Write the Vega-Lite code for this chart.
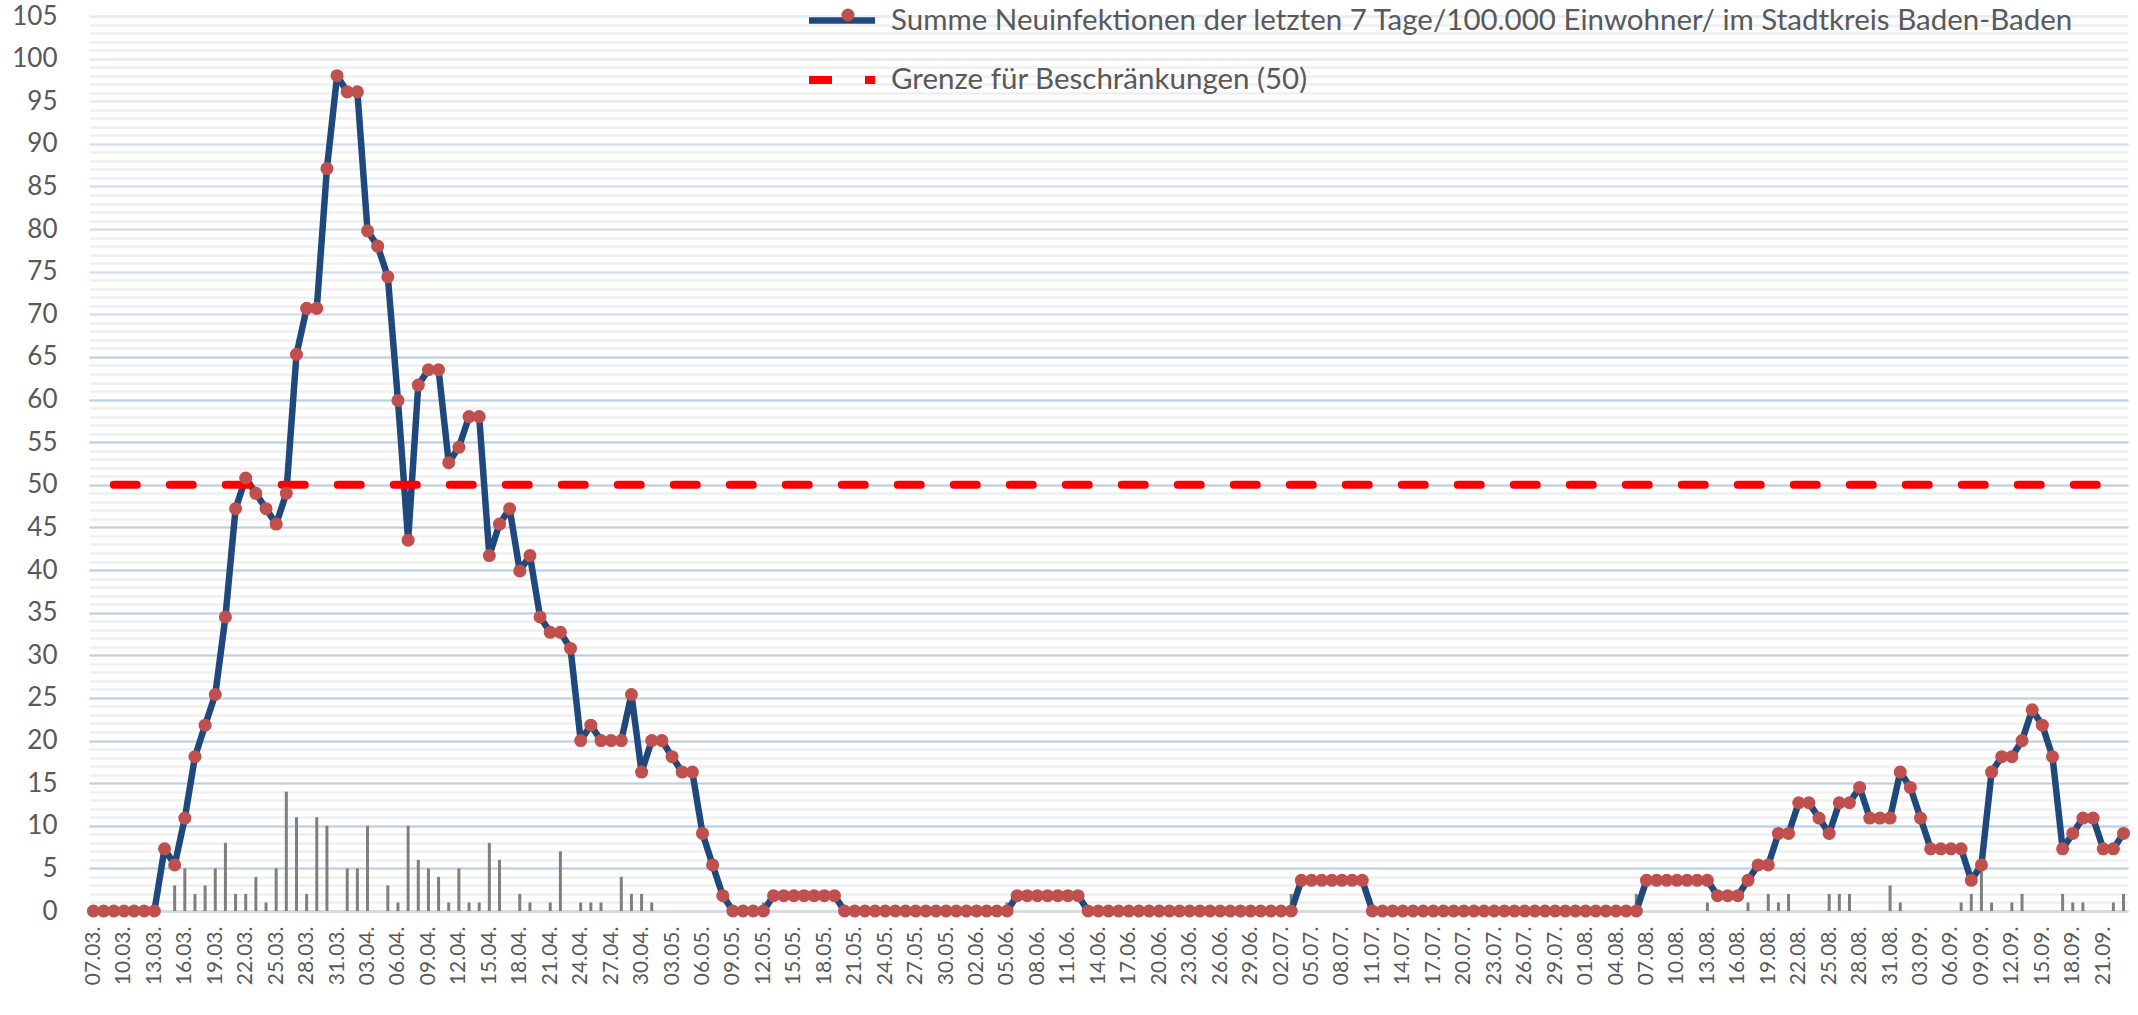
{
  "$schema": "https://vega.github.io/schema/vega-lite/v6.json",
  "width": 2039,
  "height": 895,
  "autosize": {"type": "none"},
  "padding": {"left": 89, "top": 16, "right": 10, "bottom": 104},
  "background": "white",
  "config": {
    "view": {"stroke": null},
    "font": "Lato",
    "axis": {"labelFont": "Lato", "labelColor": "#595959"},
    "legend": {"labelFont": "Lato", "labelColor": "#595959"}
  },
  "data": {
    "values": [
      {"d":"07.03.","inz":0,"n":0},
      {"d":"08.03.","inz":0,"n":0},
      {"d":"09.03.","inz":0,"n":0,"g":50},
      {"d":"10.03.","inz":0,"n":0,"g":50},
      {"d":"11.03.","inz":0,"n":0,"g":50},
      {"d":"12.03.","inz":0,"n":0,"g":50},
      {"d":"13.03.","inz":0,"n":0,"g":50},
      {"d":"14.03.","inz":7.3,"n":0,"g":50},
      {"d":"15.03.","inz":5.4,"n":3,"g":50},
      {"d":"16.03.","inz":10.9,"n":5,"g":50},
      {"d":"17.03.","inz":18.1,"n":2,"g":50},
      {"d":"18.03.","inz":21.8,"n":3,"g":50},
      {"d":"19.03.","inz":25.4,"n":5,"g":50},
      {"d":"20.03.","inz":34.5,"n":8,"g":50},
      {"d":"21.03.","inz":47.2,"n":2,"g":50},
      {"d":"22.03.","inz":50.8,"n":2,"g":50},
      {"d":"23.03.","inz":49.0,"n":4,"g":50},
      {"d":"24.03.","inz":47.2,"n":1,"g":50},
      {"d":"25.03.","inz":45.4,"n":5,"g":50},
      {"d":"26.03.","inz":49.0,"n":14,"g":50},
      {"d":"27.03.","inz":65.3,"n":11,"g":50},
      {"d":"28.03.","inz":70.7,"n":2,"g":50},
      {"d":"29.03.","inz":70.7,"n":11,"g":50},
      {"d":"30.03.","inz":87.1,"n":10,"g":50},
      {"d":"31.03.","inz":98.0,"n":0,"g":50},
      {"d":"01.04.","inz":96.1,"n":5,"g":50},
      {"d":"02.04.","inz":96.1,"n":5,"g":50},
      {"d":"03.04.","inz":79.8,"n":10,"g":50},
      {"d":"04.04.","inz":78.0,"n":0,"g":50},
      {"d":"05.04.","inz":74.4,"n":3,"g":50},
      {"d":"06.04.","inz":59.9,"n":1,"g":50},
      {"d":"07.04.","inz":43.5,"n":10,"g":50},
      {"d":"08.04.","inz":61.7,"n":6,"g":50},
      {"d":"09.04.","inz":63.5,"n":5,"g":50},
      {"d":"10.04.","inz":63.5,"n":4,"g":50},
      {"d":"11.04.","inz":52.6,"n":1,"g":50},
      {"d":"12.04.","inz":54.4,"n":5,"g":50},
      {"d":"13.04.","inz":58.0,"n":1,"g":50},
      {"d":"14.04.","inz":58.0,"n":1,"g":50},
      {"d":"15.04.","inz":41.7,"n":8,"g":50},
      {"d":"16.04.","inz":45.4,"n":6,"g":50},
      {"d":"17.04.","inz":47.2,"n":0,"g":50},
      {"d":"18.04.","inz":39.9,"n":2,"g":50},
      {"d":"19.04.","inz":41.7,"n":1,"g":50},
      {"d":"20.04.","inz":34.5,"n":0,"g":50},
      {"d":"21.04.","inz":32.7,"n":1,"g":50},
      {"d":"22.04.","inz":32.7,"n":7,"g":50},
      {"d":"23.04.","inz":30.8,"n":0,"g":50},
      {"d":"24.04.","inz":20.0,"n":1,"g":50},
      {"d":"25.04.","inz":21.8,"n":1,"g":50},
      {"d":"26.04.","inz":20.0,"n":1,"g":50},
      {"d":"27.04.","inz":20.0,"n":0,"g":50},
      {"d":"28.04.","inz":20.0,"n":4,"g":50},
      {"d":"29.04.","inz":25.4,"n":2,"g":50},
      {"d":"30.04.","inz":16.3,"n":2,"g":50},
      {"d":"01.05.","inz":20.0,"n":1,"g":50},
      {"d":"02.05.","inz":20.0,"n":0,"g":50},
      {"d":"03.05.","inz":18.1,"n":0,"g":50},
      {"d":"04.05.","inz":16.3,"n":0,"g":50},
      {"d":"05.05.","inz":16.3,"n":0,"g":50},
      {"d":"06.05.","inz":9.1,"n":0,"g":50},
      {"d":"07.05.","inz":5.4,"n":0,"g":50},
      {"d":"08.05.","inz":1.8,"n":0,"g":50},
      {"d":"09.05.","inz":0,"n":0,"g":50},
      {"d":"10.05.","inz":0,"n":0,"g":50},
      {"d":"11.05.","inz":0,"n":0,"g":50},
      {"d":"12.05.","inz":0,"n":1,"g":50},
      {"d":"13.05.","inz":1.8,"n":0,"g":50},
      {"d":"14.05.","inz":1.8,"n":0,"g":50},
      {"d":"15.05.","inz":1.8,"n":0,"g":50},
      {"d":"16.05.","inz":1.8,"n":0,"g":50},
      {"d":"17.05.","inz":1.8,"n":0,"g":50},
      {"d":"18.05.","inz":1.8,"n":0,"g":50},
      {"d":"19.05.","inz":1.8,"n":0,"g":50},
      {"d":"20.05.","inz":0,"n":0,"g":50},
      {"d":"21.05.","inz":0,"n":0,"g":50},
      {"d":"22.05.","inz":0,"n":0,"g":50},
      {"d":"23.05.","inz":0,"n":0,"g":50},
      {"d":"24.05.","inz":0,"n":0,"g":50},
      {"d":"25.05.","inz":0,"n":0,"g":50},
      {"d":"26.05.","inz":0,"n":0,"g":50},
      {"d":"27.05.","inz":0,"n":0,"g":50},
      {"d":"28.05.","inz":0,"n":0,"g":50},
      {"d":"29.05.","inz":0,"n":0,"g":50},
      {"d":"30.05.","inz":0,"n":0,"g":50},
      {"d":"31.05.","inz":0,"n":0,"g":50},
      {"d":"01.06.","inz":0,"n":0,"g":50},
      {"d":"02.06.","inz":0,"n":0,"g":50},
      {"d":"03.06.","inz":0,"n":0,"g":50},
      {"d":"04.06.","inz":0,"n":0,"g":50},
      {"d":"05.06.","inz":0,"n":1,"g":50},
      {"d":"06.06.","inz":1.8,"n":0,"g":50},
      {"d":"07.06.","inz":1.8,"n":0,"g":50},
      {"d":"08.06.","inz":1.8,"n":0,"g":50},
      {"d":"09.06.","inz":1.8,"n":0,"g":50},
      {"d":"10.06.","inz":1.8,"n":0,"g":50},
      {"d":"11.06.","inz":1.8,"n":0,"g":50},
      {"d":"12.06.","inz":1.8,"n":0,"g":50},
      {"d":"13.06.","inz":0,"n":0,"g":50},
      {"d":"14.06.","inz":0,"n":0,"g":50},
      {"d":"15.06.","inz":0,"n":0,"g":50},
      {"d":"16.06.","inz":0,"n":0,"g":50},
      {"d":"17.06.","inz":0,"n":0,"g":50},
      {"d":"18.06.","inz":0,"n":0,"g":50},
      {"d":"19.06.","inz":0,"n":0,"g":50},
      {"d":"20.06.","inz":0,"n":0,"g":50},
      {"d":"21.06.","inz":0,"n":0,"g":50},
      {"d":"22.06.","inz":0,"n":0,"g":50},
      {"d":"23.06.","inz":0,"n":0,"g":50},
      {"d":"24.06.","inz":0,"n":0,"g":50},
      {"d":"25.06.","inz":0,"n":0,"g":50},
      {"d":"26.06.","inz":0,"n":0,"g":50},
      {"d":"27.06.","inz":0,"n":0,"g":50},
      {"d":"28.06.","inz":0,"n":0,"g":50},
      {"d":"29.06.","inz":0,"n":0,"g":50},
      {"d":"30.06.","inz":0,"n":0,"g":50},
      {"d":"01.07.","inz":0,"n":0,"g":50},
      {"d":"02.07.","inz":0,"n":0,"g":50},
      {"d":"03.07.","inz":0,"n":2,"g":50},
      {"d":"04.07.","inz":3.6,"n":0,"g":50},
      {"d":"05.07.","inz":3.6,"n":0,"g":50},
      {"d":"06.07.","inz":3.6,"n":0,"g":50},
      {"d":"07.07.","inz":3.6,"n":0,"g":50},
      {"d":"08.07.","inz":3.6,"n":0,"g":50},
      {"d":"09.07.","inz":3.6,"n":0,"g":50},
      {"d":"10.07.","inz":3.6,"n":0,"g":50},
      {"d":"11.07.","inz":0,"n":0,"g":50},
      {"d":"12.07.","inz":0,"n":0,"g":50},
      {"d":"13.07.","inz":0,"n":0,"g":50},
      {"d":"14.07.","inz":0,"n":0,"g":50},
      {"d":"15.07.","inz":0,"n":0,"g":50},
      {"d":"16.07.","inz":0,"n":0,"g":50},
      {"d":"17.07.","inz":0,"n":0,"g":50},
      {"d":"18.07.","inz":0,"n":0,"g":50},
      {"d":"19.07.","inz":0,"n":0,"g":50},
      {"d":"20.07.","inz":0,"n":0,"g":50},
      {"d":"21.07.","inz":0,"n":0,"g":50},
      {"d":"22.07.","inz":0,"n":0,"g":50},
      {"d":"23.07.","inz":0,"n":0,"g":50},
      {"d":"24.07.","inz":0,"n":0,"g":50},
      {"d":"25.07.","inz":0,"n":0,"g":50},
      {"d":"26.07.","inz":0,"n":0,"g":50},
      {"d":"27.07.","inz":0,"n":0,"g":50},
      {"d":"28.07.","inz":0,"n":0,"g":50},
      {"d":"29.07.","inz":0,"n":0,"g":50},
      {"d":"30.07.","inz":0,"n":0,"g":50},
      {"d":"31.07.","inz":0,"n":0,"g":50},
      {"d":"01.08.","inz":0,"n":0,"g":50},
      {"d":"02.08.","inz":0,"n":0,"g":50},
      {"d":"03.08.","inz":0,"n":0,"g":50},
      {"d":"04.08.","inz":0,"n":0,"g":50},
      {"d":"05.08.","inz":0,"n":0,"g":50},
      {"d":"06.08.","inz":0,"n":2,"g":50},
      {"d":"07.08.","inz":3.6,"n":0,"g":50},
      {"d":"08.08.","inz":3.6,"n":0,"g":50},
      {"d":"09.08.","inz":3.6,"n":0,"g":50},
      {"d":"10.08.","inz":3.6,"n":0,"g":50},
      {"d":"11.08.","inz":3.6,"n":0,"g":50},
      {"d":"12.08.","inz":3.6,"n":0,"g":50},
      {"d":"13.08.","inz":3.6,"n":1,"g":50},
      {"d":"14.08.","inz":1.8,"n":0,"g":50},
      {"d":"15.08.","inz":1.8,"n":0,"g":50},
      {"d":"16.08.","inz":1.8,"n":0,"g":50},
      {"d":"17.08.","inz":3.6,"n":1,"g":50},
      {"d":"18.08.","inz":5.4,"n":0,"g":50},
      {"d":"19.08.","inz":5.4,"n":2,"g":50},
      {"d":"20.08.","inz":9.1,"n":1,"g":50},
      {"d":"21.08.","inz":9.1,"n":2,"g":50},
      {"d":"22.08.","inz":12.7,"n":0,"g":50},
      {"d":"23.08.","inz":12.7,"n":0,"g":50},
      {"d":"24.08.","inz":10.9,"n":0,"g":50},
      {"d":"25.08.","inz":9.1,"n":2,"g":50},
      {"d":"26.08.","inz":12.7,"n":2,"g":50},
      {"d":"27.08.","inz":12.7,"n":2,"g":50},
      {"d":"28.08.","inz":14.5,"n":0,"g":50},
      {"d":"29.08.","inz":10.9,"n":0,"g":50},
      {"d":"30.08.","inz":10.9,"n":0,"g":50},
      {"d":"31.08.","inz":10.9,"n":3,"g":50},
      {"d":"01.09.","inz":16.3,"n":1,"g":50},
      {"d":"02.09.","inz":14.5,"n":0,"g":50},
      {"d":"03.09.","inz":10.9,"n":0,"g":50},
      {"d":"04.09.","inz":7.3,"n":0,"g":50},
      {"d":"05.09.","inz":7.3,"n":0,"g":50},
      {"d":"06.09.","inz":7.3,"n":0,"g":50},
      {"d":"07.09.","inz":7.3,"n":1,"g":50},
      {"d":"08.09.","inz":3.6,"n":2,"g":50},
      {"d":"09.09.","inz":5.4,"n":6,"g":50},
      {"d":"10.09.","inz":16.3,"n":1,"g":50},
      {"d":"11.09.","inz":18.1,"n":0,"g":50},
      {"d":"12.09.","inz":18.1,"n":1,"g":50},
      {"d":"13.09.","inz":20.0,"n":2,"g":50},
      {"d":"14.09.","inz":23.6,"n":0,"g":50},
      {"d":"15.09.","inz":21.8,"n":0,"g":50},
      {"d":"16.09.","inz":18.1,"n":0,"g":50},
      {"d":"17.09.","inz":7.3,"n":2,"g":50},
      {"d":"18.09.","inz":9.1,"n":1,"g":50},
      {"d":"19.09.","inz":10.9,"n":1,"g":50},
      {"d":"20.09.","inz":10.9,"n":0,"g":50},
      {"d":"21.09.","inz":7.3,"n":0,"g":50},
      {"d":"22.09.","inz":7.3,"n":1},
      {"d":"23.09.","inz":9.1,"n":2}
    ]
  },
  "resolve": {"axis": {"y": "independent"}},
  "layer": [
    {
      "mark": {"type": "rule", "color": "#7F7F7F", "strokeWidth": 3},
      "encoding": {
        "x": {"field": "d", "type": "ordinal", "sort": null, "scale": {"type": "point", "padding": 0.44}},
        "y": {
          "field": "n", "type": "quantitative",
          "scale": {"domain": [0, 105], "nice": false, "zero": true},
          "axis": {
            "orient": "left", "title": null, "labels": false, "ticks": false, "domain": false,
            "grid": true, "gridColor": "#EFEFEF", "gridWidth": 2.5,
            "values": [0,1,2,3,4,5,6,7,8,9,10,11,12,13,14,15,16,17,18,19,20,21,22,23,24,25,26,27,28,29,30,31,32,33,34,35,36,37,38,39,40,41,42,43,44,45,46,47,48,49,50,51,52,53,54,55,56,57,58,59,60,61,62,63,64,65,66,67,68,69,70,71,72,73,74,75,76,77,78,79,80,81,82,83,84,85,86,87,88,89,90,91,92,93,94,95,96,97,98,99,100,101,102,103,104,105]
          }
        },
        "y2": {"datum": 0}
      }
    },
    {
      "transform": [{"fold": ["inz", "g"], "as": ["serie", "wert"]}],
      "mark": {"type": "line", "strokeCap": "round", "strokeJoin": "round"},
      "encoding": {
        "x": {
          "field": "d", "type": "ordinal", "sort": null, "scale": {"type": "point", "padding": 0.44},
          "axis": {
            "title": null, "labelAngle": 270, "labelFontSize": 21, "labelPadding": 15, "ticks": false,
            "domainColor": "#D9D9D9", "domainWidth": 2, "grid": false, "labelOverlap": false,
            "values": ["07.03.","10.03.","13.03.","16.03.","19.03.","22.03.","25.03.","28.03.","31.03.","03.04.","06.04.","09.04.","12.04.","15.04.","18.04.","21.04.","24.04.","27.04.","30.04.","03.05.","06.05.","09.05.","12.05.","15.05.","18.05.","21.05.","24.05.","27.05.","30.05.","02.06.","05.06.","08.06.","11.06.","14.06.","17.06.","20.06.","23.06.","26.06.","29.06.","02.07.","05.07.","08.07.","11.07.","14.07.","17.07.","20.07.","23.07.","26.07.","29.07.","01.08.","04.08.","07.08.","10.08.","13.08.","16.08.","19.08.","22.08.","25.08.","28.08.","31.08.","03.09.","06.09.","09.09.","12.09.","15.09.","18.09.","21.09."]
          }
        },
        "y": {
          "field": "wert", "type": "quantitative",
          "axis": {
            "orient": "left", "title": null, "ticks": false, "domain": false,
            "labelFontSize": 26, "labelPadding": 32,
            "grid": true, "gridWidth": 2,
            "gridColor": {"condition": [{"test": "datum.value >= 95", "value": "#E4ECF7"}, {"test": "datum.value >= 70", "value": "#D2DEF0"}], "value": "#BCCFE8"},
            "values": [0,5,10,15,20,25,30,35,40,45,50,55,60,65,70,75,80,85,90,95,100,105]
          }
        },
        "stroke": {
          "field": "serie", "type": "nominal",
          "scale": {"domain": ["inz", "g"], "range": ["#1F497D", "#FF0000"]},
          "legend": {
            "title": null, "orient": "none", "legendX": 716, "legendY": -32, "padding": 0,
            "symbolType": "stroke", "symbolSize": 4356, "symbolStrokeWidth": 7,
            "labelFontSize": 29.5, "labelOffset": 12, "labelLimit": 2000, "rowPadding": 8,
            "labelExpr": "datum.value == 'inz' ? 'Summe Neuinfektionen der letzten 7 Tage/100.000 Einwohner/ im Stadtkreis Baden-Baden' : 'Grenze für Beschränkungen (50)'"
          }
        },
        "strokeDash": {
          "field": "serie", "type": "nominal",
          "scale": {"domain": ["inz", "g"], "range": [[1, 0], [23, 33]]},
          "legend": {
            "title": null, "orient": "none", "legendX": 716, "legendY": -32, "padding": 0,
            "symbolType": "stroke", "symbolSize": 4356, "symbolStrokeWidth": 7,
            "labelFontSize": 29.5, "labelOffset": 12, "labelLimit": 2000, "rowPadding": 8,
            "labelExpr": "datum.value == 'inz' ? 'Summe Neuinfektionen der letzten 7 Tage/100.000 Einwohner/ im Stadtkreis Baden-Baden' : 'Grenze für Beschränkungen (50)'"
          }
        },
        "strokeWidth": {
          "field": "serie", "type": "ordinal",
          "scale": {"domain": ["inz", "g"], "range": [6.5, 8]},
          "legend": null
        }
      }
    },
    {
      "mark": {"type": "point", "filled": true, "size": 170, "opacity": 1},
      "encoding": {
        "x": {"field": "d", "type": "ordinal", "sort": null, "scale": {"type": "point", "padding": 0.44}},
        "y": {"field": "inz", "type": "quantitative", "axis": null},
        "fill": {
          "datum": "Summe",
          "scale": {"range": ["#C0504D"]},
          "legend": {
            "title": null, "orient": "none", "legendX": 746, "legendY": -14, "padding": 0,
            "symbolType": "circle", "symbolSize": 170, "symbolStrokeWidth": 0,
            "labelFontSize": 26, "labelExpr": "' '"
          }
        }
      }
    }
  ]
}
